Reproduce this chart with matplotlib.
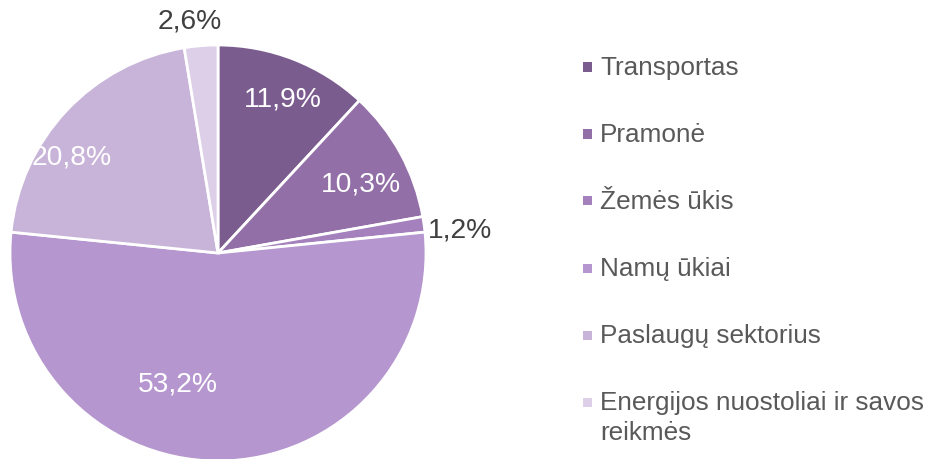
import matplotlib.pyplot as plt
from matplotlib.patches import Rectangle
import numpy as np

plt.rcParams['font.family'] = ['Liberation Sans', 'DejaVu Sans']

labels = ["Transportas", "Pramonė", "Žemės ūkis", "Namų ūkiai",
          "Paslaugų sektorius", "Energijos nuostoliai ir savos\nreikmės"]
values = [11.9, 10.3, 1.2, 53.2, 20.8, 2.6]
colors = ["#7b5c8f", "#936fa8", "#a481bd", "#b596cf", "#c9b4d9", "#dccfe7"]

# label placement per slice: distance (x radius), angle shift from mid (deg), colour
lab_dist = [0.80, 0.76, 1.17, 0.66, 0.84, 1.12]
lab_shift = [-1.6, -3, -2.5, -17, 10, 2.2]
lab_col = ["white", "white", "#404040", "white", "white", "#404040"]

W, H = 931, 459
fig = plt.figure(figsize=(W/100, H/100), dpi=100)
ax = fig.add_axes([10/W, -2/H, 416/W, 416/H])

wedges, _ = ax.pie(values, colors=colors, startangle=90, counterclock=False,
                   radius=1, wedgeprops=dict(edgecolor="white", linewidth=2))
ax.set_xlim(-1, 1)
ax.set_ylim(-1, 1)
ax.set_aspect("equal")

for w, v, d, s, c in zip(wedges, values, lab_dist, lab_shift, lab_col):
    ang = np.deg2rad((w.theta1 + w.theta2) / 2 + s)
    ax.text(d*np.cos(ang), d*np.sin(ang), f"{v:.1f}%".replace(".", ","),
            ha="center", va="center", fontsize=20.3, color=c, clip_on=False)

# legend drawn by hand so the wrapped entry lines up like the original
for i, (lab, c) in enumerate(zip(labels, colors)):
    y = 67 + i*67
    fig.add_artist(Rectangle((583/W, 1 - (y + 4.5)/H), 9/W, 9/H,
                             transform=fig.transFigure, facecolor=c, edgecolor="none"))
    fig.text(600/W, 1 - (y - 11)/H, lab, va="top", ha="left", fontsize=18.8,
             color="#595959", linespacing=1.3)

fig.savefig("out.png", dpi=100)
